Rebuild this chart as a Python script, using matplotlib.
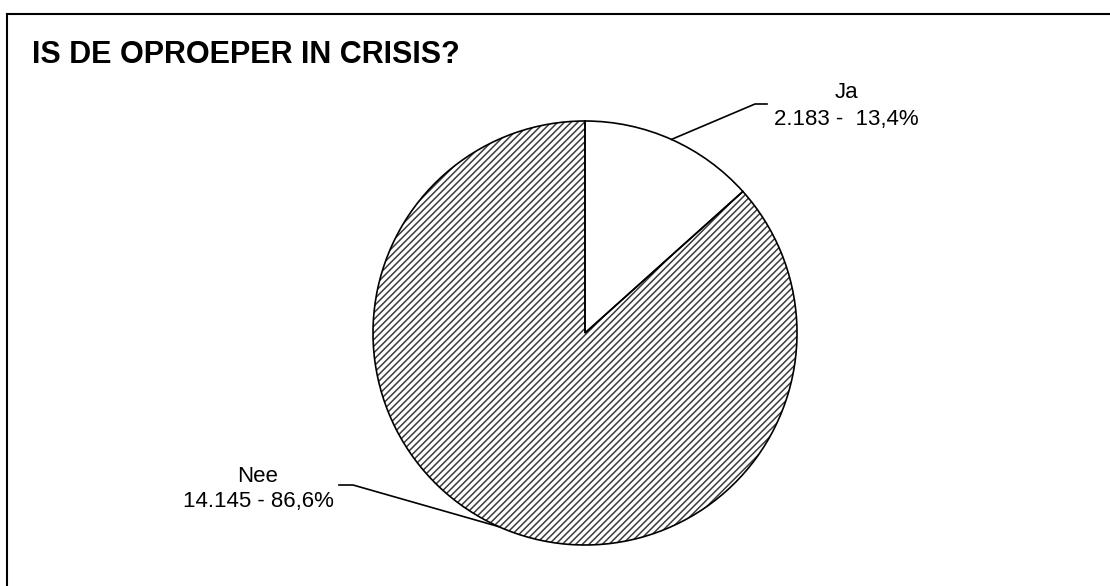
import numpy as np
import matplotlib
matplotlib.use("Agg")
import matplotlib.pyplot as plt
from matplotlib.lines import Line2D

# data
labels = ["Ja", "Nee"]
counts = [2183, 14145]
count_txt = ["2.183", "14.145"]
pct_txt = ["13,4%", "86,6%"]
title = "IS DE OPROEPER IN CRISIS?"

plt.rcParams['font.family'] = ['Liberation Sans', 'DejaVu Sans']
plt.rcParams['hatch.linewidth'] = 1.1

fig = plt.figure(figsize=(11.1, 5.86), dpi=100)
ax = fig.add_axes([0, 0, 1, 1])

cx, cy, r = 585, 333, 212

# hatched fill (hatch colour follows edgecolor, so outline drawn separately)
wedges, _ = ax.pie(counts, center=(cx, cy), radius=r, startangle=-90,
                   counterclock=True, colors=['white', 'white'],
                   wedgeprops=dict(linewidth=0, edgecolor='#3c3c3c'))
wedges[1].set_hatch('/////')
ax.pie(counts, center=(cx, cy), radius=r, startangle=-90, counterclock=True,
       wedgeprops=dict(fill=False, linewidth=1.2, edgecolor='black'))

ax.set_xlim(0, 1110)
ax.set_ylim(586, 0)
ax.set_aspect('equal')
ax.axis('off')

# leader lines + labels
label_pos = [(846, 98, 125), (258, 482, 507)]
elbows = [((755, 104), (767, 104)), ((353, 485), (339, 485))]
for w, lab, c, p, (tx, y1, y2), (e1, e2) in zip(wedges, labels, count_txt, pct_txt,
                                                   label_pos, elbows):
    mid = np.deg2rad((w.theta1 + w.theta2) / 2)
    px, py = cx + r * np.cos(mid), cy + r * np.sin(mid)
    ax.plot([px, e1[0], e2[0]], [py, e1[1], e2[1]], color='black', lw=1.2)
    sep = " -  " if lab == "Ja" else " - "
    ax.text(tx, y1, lab, ha='center', va='baseline', fontsize=16)
    ax.text(tx, y2, c + sep + p, ha='center', va='baseline', fontsize=16)

ax.text(32, 63, title, ha='left', va='baseline', fontsize=22, fontweight='bold')

# chart area border (left and top visible)
fig.add_artist(Line2D([7 / 1110, 7 / 1110], [0, 1 - 14 / 586], color='black', lw=1.5))
fig.add_artist(Line2D([7 / 1110, 1], [1 - 14 / 586, 1 - 14 / 586], color='black', lw=1.5))

fig.savefig("out.png", dpi=100)
